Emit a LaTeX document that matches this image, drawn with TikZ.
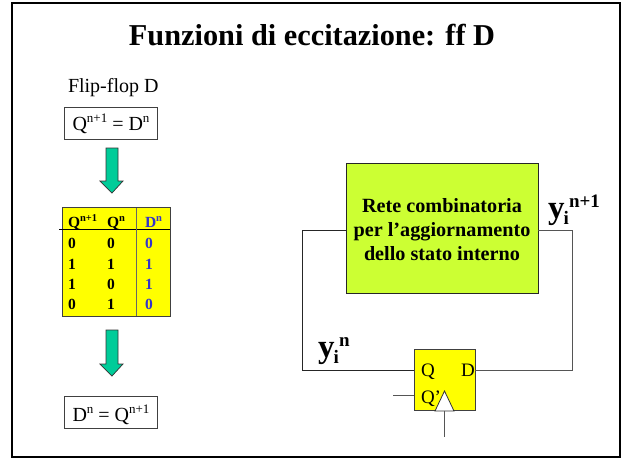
\documentclass[tikz,border=0pt]{standalone}
\usepackage{fontspec}
\setmainfont{Liberation Serif}
\definecolor{ffy}{HTML}{FFFF00}
\definecolor{combg}{HTML}{CCFF33}
\definecolor{arrowg}{HTML}{00CC99}
\definecolor{tblue}{HTML}{3333CC}
\definecolor{lgray}{HTML}{555555}
\newcommand{\fs}[1]{\fontsize{#1}{#1}\selectfont}
\newcommand{\sps}[1]{\raisebox{0.36em}{\fontsize{13}{13}\selectfont #1}}
\newcommand{\spb}[1]{\raisebox{0.36em}{\fontsize{10.5}{10.5}\selectfont\bfseries #1}}
\tikzset{
  x=1pt,y=-1pt,
  txt/.style={inner sep=0pt,outer sep=0pt,anchor=base west},
  boxed/.style={draw=black!75,line width=0.7pt,fill=white,inner sep=0pt,outer sep=0pt,minimum width=93pt,minimum height=32pt},
  greenarrow/.style={draw=black!80,line width=0.7pt,fill=arrowg,line join=miter},
  wire/.style={draw=black!85,line width=0.8pt},
  grayw/.style={draw=lgray,line width=0.9pt},
  tcell/.style={txt,font=\fs{15.5}\bfseries},
  bcell/.style={tcell,text=tblue}
}
\begin{document}
\begin{tikzpicture}
\useasboundingbox (0,0) rectangle (622,459);
\fill[white] (0,0) rectangle (622,459);
\draw[black,line width=2.2pt] (12,3) rectangle (620,457);
\node[inner sep=0pt,anchor=base] (title) at (312,45) {\fs{30.3}\bfseries Funzioni di eccitazione: ff D};
\node[txt] (fflabel) at (68,92) {\fs{20}Flip-flop D};
\node[boxed] (eq1) at (110.5,123) {};
\node[boxed] (eq2) at (110.5,412) {};
\node[inner sep=0pt,anchor=base] (eq1t) at (111,130) {\fs{20}Q\sps{n+1} = D\sps{n}};
\node[inner sep=0pt,anchor=base] (eq2t) at (111,421) {\fs{20}D\sps{n} = Q\sps{n+1}};
\path[greenarrow] (106,148) -- (118,148) -- (118,181) -- (123,181) -- (112,193) -- (100,181) -- (106,181) -- cycle;
\path[greenarrow] (106,330) -- (118,330) -- (118,364) -- (123,364) -- (112,376) -- (100,364) -- (106,364) -- cycle;
% table
\node[draw=black!75,line width=0.9pt,fill=ffy,inner sep=0pt,outer sep=0pt,minimum width=108pt,minimum height=109pt] (tbl) at (116,261.5) {};
\coordinate (hl) at (59,229);
\coordinate (vt) at (136,208);
\draw[line width=0.7pt,black] (hl) -- (hl -| tbl.east);
\draw[line width=0.8pt,black!60] (vt) -- (vt |- tbl.south);
\node[tcell] (h1) at (68,227) {Q\spb{n+1}};
\node[tcell] (h2) at (107,227) {Q\spb{n}};
\node[bcell] (h3) at (145,227) {D\spb{n}};
\node[tcell] at (68,248) {0};\node[tcell] at (107,248) {0};\node[bcell] at (145,248) {0};
\node[tcell] at (68,269) {1};\node[tcell] at (107,269) {1};\node[bcell] at (145,269) {1};
\node[tcell] at (68,289) {1};\node[tcell] at (107,289) {0};\node[bcell] at (145,289) {1};
\node[tcell] at (68,309) {0};\node[tcell] at (107,309) {1};\node[bcell] at (145,309) {0};
% combinational block
\node[draw=black!85,line width=0.8pt,fill=combg,inner sep=0pt,outer sep=0pt,minimum width=192pt,minimum height=130pt] (comb) at (442,228) {};
\node[inner sep=0pt,anchor=base] (c1) at (442,212) {\fs{20.2}\bfseries Rete combinatoria};
\node[inner sep=0pt,anchor=base] (c2) at (442,236) {\fs{20.2}\bfseries per l’aggiornamento};
\node[inner sep=0pt,anchor=base] (c3) at (442,260) {\fs{20.2}\bfseries dello stato interno};
% flip-flop
\node[draw=black!75,line width=0.9pt,fill=ffy,inner sep=0pt,outer sep=0pt,minimum width=61pt,minimum height=61pt] (ff) at (444.5,380) {};
\coordinate (cl) at (345.5,230.5);
\coordinate (cr) at (538.5,230.5);
\coordinate (lc) at (302.5,370);
\coordinate (rc) at (572,370);
\draw[wire] (cl -| comb.west) -- (lc |- cl) -- (lc) -- (lc -| ff.west);
\draw[grayw] (cr -| comb.east) -- (rc |- cr) -- (rc) -- (rc -| ff.east);
\node[txt] (fq) at (421,376) {\fs{19}Q};
\node[txt] (fd) at (461,376) {\fs{19}D};
\node[txt] (fqn) at (421,403) {\fs{19}Q’};
\coordinate (qn) at (393,395.5);
\draw[grayw] (qn) -- (qn -| ff.west);
\path[draw=black!80,line width=0.8pt,fill=white] (435,411) -- (444.5,391) -- (454,411) -- cycle;
\coordinate (ck) at (444.5,437);
\draw[grayw] (ck |- ff.south) -- (ck);
% labels
\node[txt] (y1) at (548,218) {\fs{33}\bfseries y};
\node[txt] (y1i) at (563.5,224) {\fs{19}\bfseries i};
\node[txt] (y1n) at (569,207) {\fs{19}\bfseries n+1};
\node[txt] (y2) at (318,357) {\fs{33}\bfseries y};
\node[txt] (y2i) at (333.5,363) {\fs{19}\bfseries i};
\node[txt] (y2n) at (339,346) {\fs{19}\bfseries n};
\end{tikzpicture}
\end{document}
